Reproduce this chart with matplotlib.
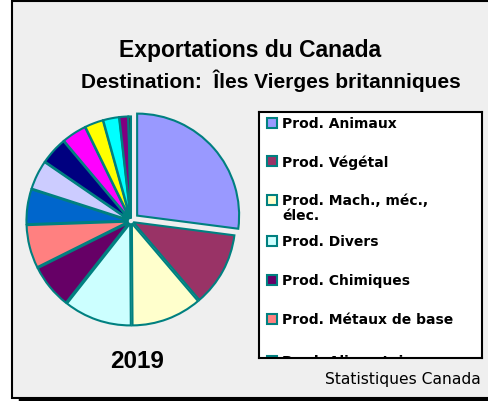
import matplotlib.pyplot as plt
from matplotlib.patches import Rectangle
from matplotlib.lines import Line2D

# share of exports by product group (%)
categories = ["Prod. Animaux", "Prod. Végétal", "Prod. Mach., méc.,\nélec.",
              "Prod. Divers", "Prod. Chimiques", "Prod. Métaux de base",
              "Prod. Alimentaires", "Prod. Minéraux", "Prod. Textiles",
              "Prod. Plastiques", "Prod. Bois", "Prod. Transport",
              "Prod. Pierre & verre", "Prod. Chaussures"]
shares = [27.0, 11.7, 11.1, 10.7, 7.0, 6.8, 5.5, 4.6, 4.3, 3.9, 2.9, 2.5, 1.4, 0.4]
colors = ['#9999ff', '#993366', '#ffffcc', '#ccffff', '#660066', '#ff8080',
          '#0066cc', '#ccccff', '#000080', '#ff00ff', '#ffff00', '#00ffff',
          '#800080', '#800000']

W, H = 488, 401
def fx(px): return px / W
def fy(py): return 1 - py / H

fig = plt.figure(figsize=(4.88, 4.01), dpi=100)
fig.patch.set_facecolor('white')

# grey chart area with frame
fig.patches.append(Rectangle((fx(12), fy(398)), fx(490) - fx(12), fy(1) - fy(398),
                             transform=fig.transFigure, facecolor='#efefef',
                             edgecolor='black', linewidth=1.5, zorder=-10))
fig.lines.append(Line2D([fx(20), fx(488)], [fy(399.5), fy(399.5)],
                        transform=fig.transFigure, color='black', linewidth=2.5,
                        zorder=-10))

# pie
cx, cy, R = 131, 221, 102
lim = 1.25
size = 2 * lim * R
ax = fig.add_axes([fx(cx - size / 2), fy(cy + size / 2), size / W, size / H])
explode = [0.08] + [0.025] * (len(shares) - 1)
ax.pie(shares, colors=colors, explode=explode, startangle=90, counterclock=False,
       wedgeprops=dict(edgecolor='#008080', linewidth=1.5))
ax.set_xlim(-lim, lim)
ax.set_ylim(-lim, lim)
ax.set_aspect('equal')
ax.axis('off')

# legend box (clipped like the original)
lx, ly, lw, lh = 259, 112, 223, 246
lg = fig.add_axes([fx(lx), fy(ly + lh), lw / W, lh / H])
lg.set_xlim(0, lw)
lg.set_ylim(lh, 0)
lg.set_facecolor('white')
lg.set_xticks([])
lg.set_yticks([])
for s in lg.spines.values():
    s.set_linewidth(1.5)
    s.set_color('black')
rows = [11, 49, 88, 129, 168, 207, 249]
for i, y in enumerate(rows):
    lg.add_patch(Rectangle((8, y - 5), 10, 10, facecolor=colors[i],
                           edgecolor='#008080', linewidth=1.5, clip_on=True))
    lg.text(23, y - 6, categories[i], fontsize=10, fontweight='bold',
            family='DejaVu Sans', va='top', ha='left', clip_on=True,
            linespacing=1.05)

# titles and notes
fig.text(fx(250), fy(50), "Exportations du Canada", ha='center', va='center',
         fontsize=16.5, fontweight='bold', family='Liberation Sans')
fig.text(fx(271), fy(81), "Destination:  Îles Vierges britanniques", ha='center',
         va='center', fontsize=15, fontweight='bold', family='Liberation Sans')
fig.text(fx(137.5), fy(361), "2019", ha='center', va='center',
         fontsize=17.5, fontweight='bold', family='Liberation Sans')
fig.text(fx(481), fy(384), "Statistiques Canada", ha='right', va='baseline',
         fontsize=11.2, family='DejaVu Sans')

fig.savefig('out.png', dpi=100)
